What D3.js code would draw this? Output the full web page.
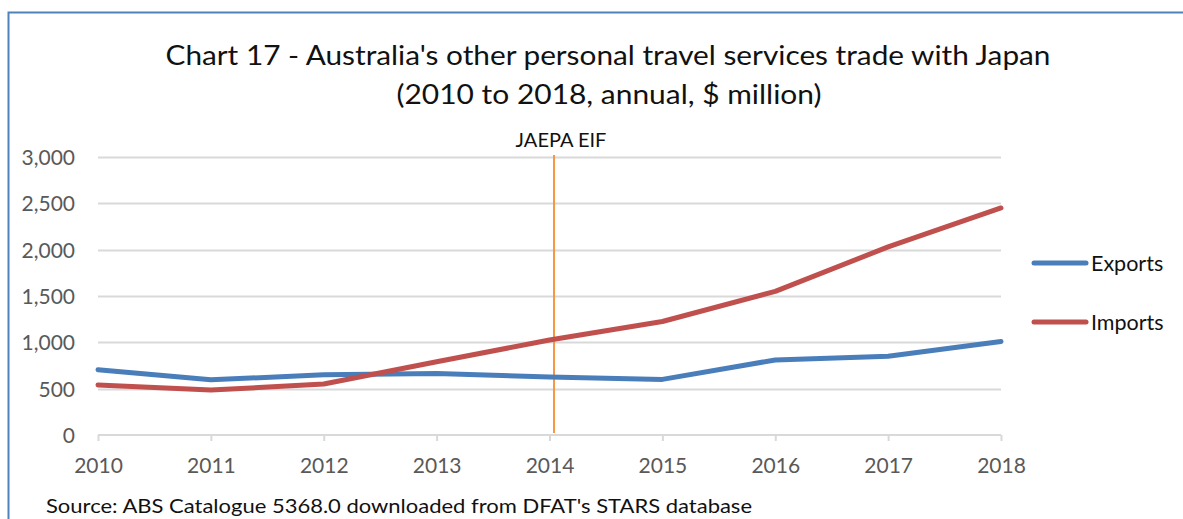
<!DOCTYPE html>
<html><head><meta charset="utf-8">
<script src="https://cdn.jsdelivr.net/npm/d3@7"></script>
<style>body{margin:0;background:#fff;overflow:hidden}svg{display:block}text{font-family:Lato,"Open Sans",sans-serif}</style>
</head><body><svg id="c" width="1183" height="519"></svg>
<script>
const years = [2010, 2011, 2012, 2013, 2014, 2015, 2016, 2017, 2018];
const exportsVals = [705, 595, 650, 665, 625, 600, 810, 850, 1010];
const importsVals = [540, 485, 550, 790, 1025, 1225, 1550, 2030, 2450];
const yTicks = [0, 500, 1000, 1500, 2000, 2500, 3000];
const eifYear = 2014.04;
const seriesNames = ["Exports", "Imports"];
const colors = ["#4a7ebb", "#c0504d"];

const svg = d3.select("#c");
const x = d3.scaleLinear().domain([2010, 2018]).range([98, 1001]);
const y = d3.scaleLinear().domain([0, 3000]).range([435, 157]);

// border
svg.append("path").attr("d", "M8.5,519 V12.5 H1183").attr("fill", "none").attr("stroke", "#4f81bd").attr("stroke-width", 2);

// title
svg.append("text").attr("x", 608).attr("y", 65).attr("text-anchor", "middle").attr("font-size", 27).attr("fill", "#111")
  .attr("textLength", 885).attr("lengthAdjust", "spacingAndGlyphs")
  .text("Chart 17 - Australia's other personal travel services trade with Japan");
svg.append("text").attr("x", 609).attr("y", 104).attr("text-anchor", "middle").attr("font-size", 27).attr("fill", "#111")
  .attr("textLength", 425).attr("lengthAdjust", "spacingAndGlyphs")
  .text("(2010 to 2018, annual, $ million)");

// gridlines
svg.append("g").selectAll("line").data(yTicks.filter(d => d > 0)).join("line")
  .attr("x1", 98).attr("x2", 1001).attr("y1", d => Math.round(y(d)) + 0.5).attr("y2", d => Math.round(y(d)) + 0.5)
  .attr("stroke", "#d9d9d9").attr("stroke-width", 2);

// y axis labels
const yAxis = d3.axisLeft(y).tickValues(yTicks).tickSize(0).tickPadding(0).tickFormat(d3.format(","));
const yg = svg.append("g").attr("transform", "translate(75,0)").call(yAxis);
yg.select(".domain").remove();
yg.selectAll("text").attr("font-size", 21).attr("fill", "#595959").attr("dy", "0.35em").style("font-family", "Lato,sans-serif");

// x axis
const xAxis = d3.axisBottom(x).tickValues(years).tickSize(6).tickPadding(17).tickFormat(d3.format("d"));
const xg = svg.append("g").attr("transform", "translate(0,435)").call(xAxis);
xg.select(".domain").attr("stroke", "#d9d9d9").attr("stroke-width", 2).attr("d", "M98,0H1001");
xg.selectAll(".tick line").attr("stroke", "#d9d9d9").attr("stroke-width", 2);
xg.selectAll("text").attr("font-size", 21).attr("fill", "#595959").style("font-family", "Lato,sans-serif");

// EIF marker
svg.append("line").attr("x1", x(eifYear)).attr("x2", x(eifYear)).attr("y1", 155).attr("y2", 433)
  .attr("stroke", "#f79646").attr("stroke-width", 2);
svg.append("text").attr("x", 561).attr("y", 147).attr("text-anchor", "middle").attr("font-size", 20)
  .attr("fill", "#111").text("JAEPA EIF");

// lines
const line = d3.line().x((d, i) => x(years[i])).y(d => y(d));
[exportsVals, importsVals].forEach((vals, k) => {
  svg.append("path").datum(vals).attr("d", line).attr("fill", "none").attr("stroke", colors[k])
    .attr("stroke-width", 5).attr("stroke-linejoin", "round").attr("stroke-linecap", "round");
});

// legend
const legY = [263, 322];
seriesNames.forEach((n, k) => {
  svg.append("line").attr("x1", 1034).attr("x2", 1086).attr("y1", legY[k]).attr("y2", legY[k])
    .attr("stroke", colors[k]).attr("stroke-width", 5).attr("stroke-linecap", "round");
  svg.append("text").attr("x", 1091).attr("y", legY[k]).attr("dy", "0.35em").attr("font-size", 21.5)
    .attr("fill", "#111").text(n);
});

// source
svg.append("text").attr("x", 46).attr("y", 513).attr("font-size", 20).attr("fill", "#111")
  .attr("textLength", 706).attr("lengthAdjust", "spacingAndGlyphs")
  .text("Source: ABS Catalogue 5368.0 downloaded from DFAT's STARS database");
</script></body></html>
